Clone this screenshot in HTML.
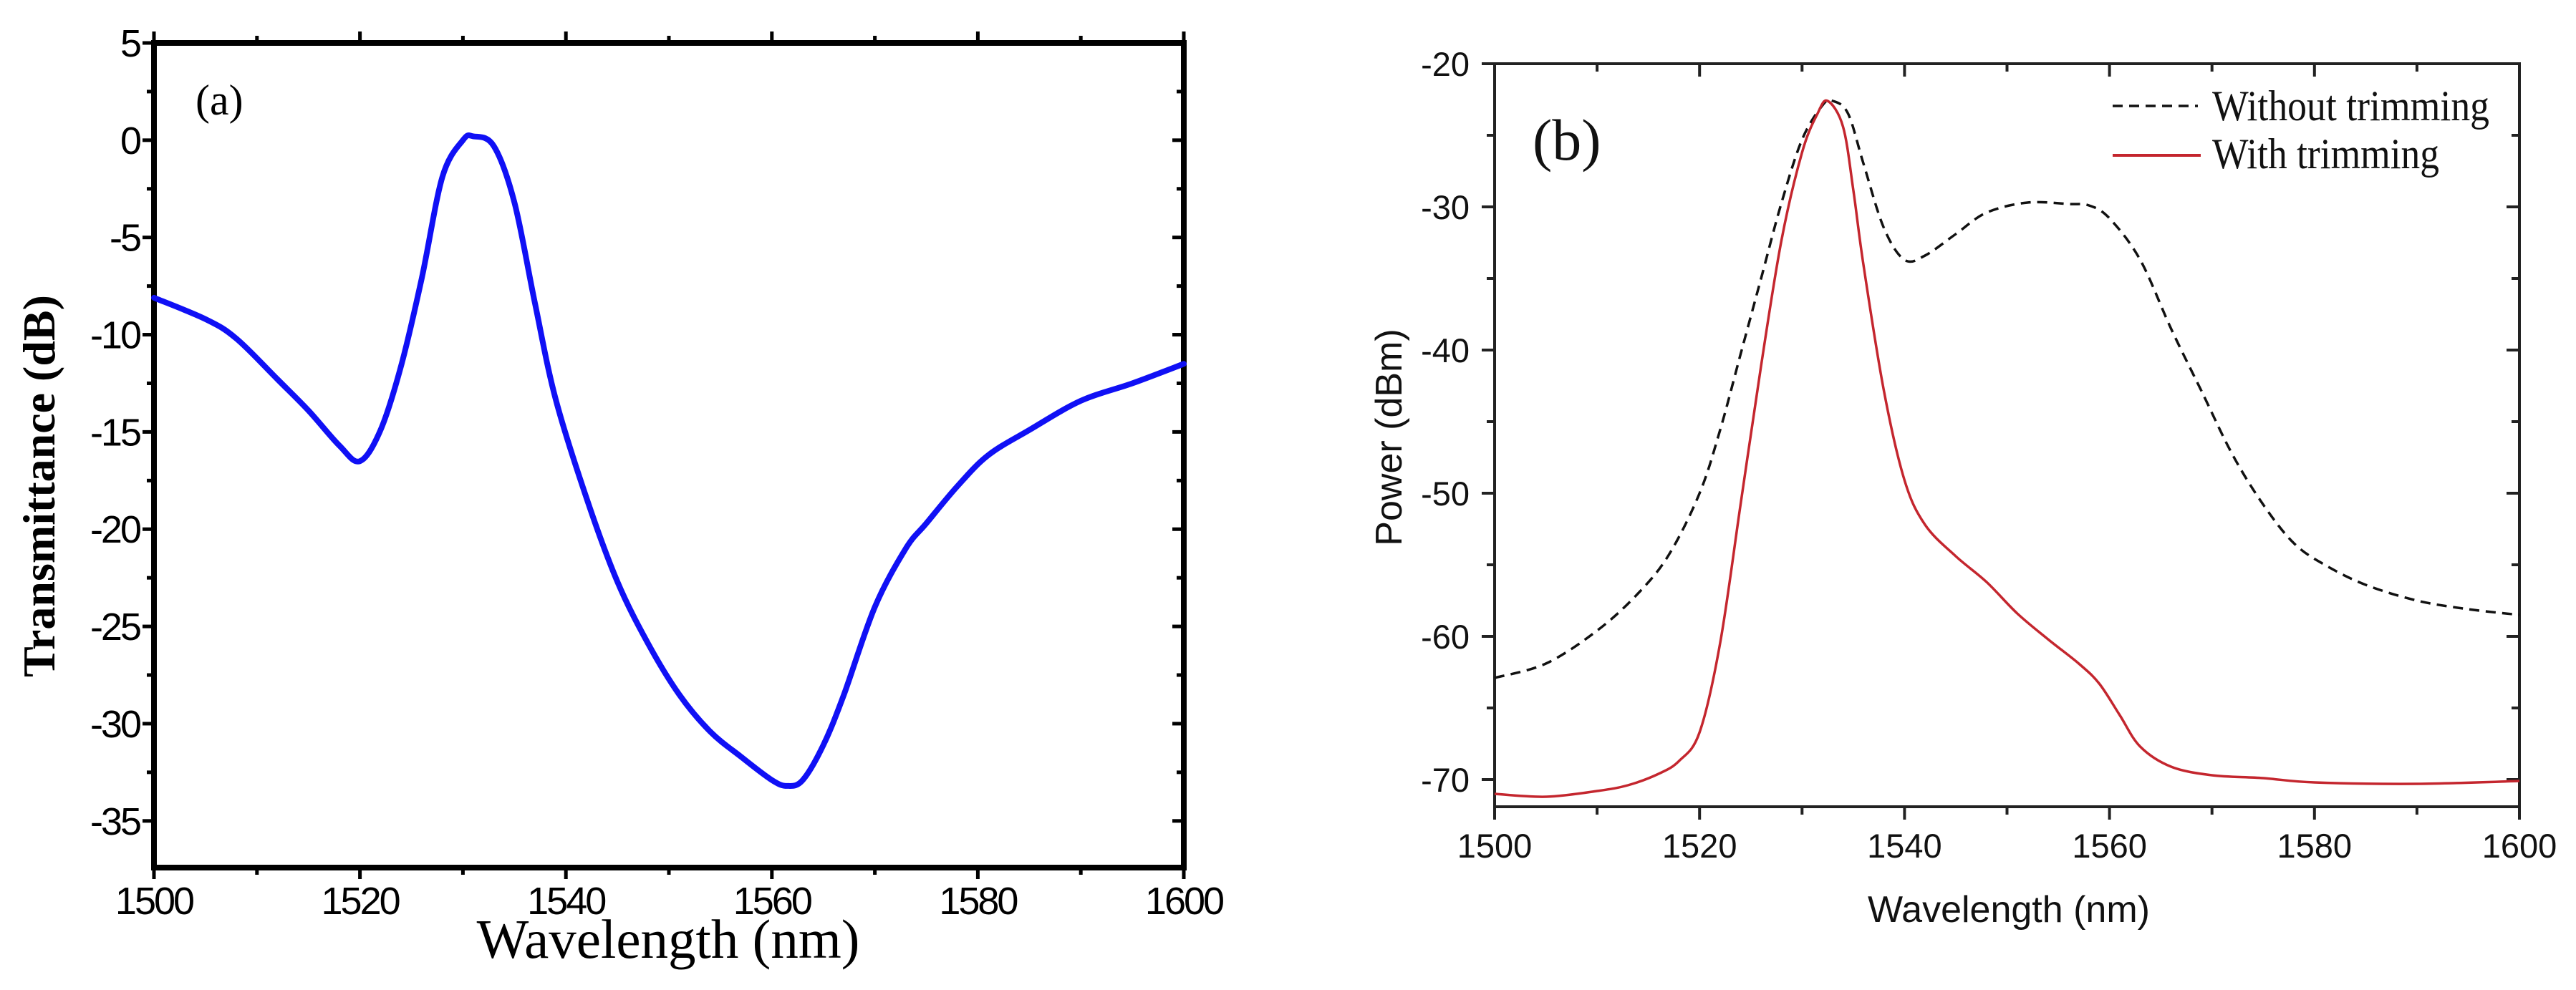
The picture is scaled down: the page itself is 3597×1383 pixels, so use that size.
<!DOCTYPE html>
<html><head><meta charset="utf-8"><style>
html,body{margin:0;padding:0;background:#fff;}
svg{display:block;}
</style></head><body>
<svg id="fig" width="3597" height="1383" viewBox="0 0 3597 1383" xmlns="http://www.w3.org/2000/svg">
<rect x="0" y="0" width="3597" height="1383" fill="#fff"/>
<g id="pa"></g>
<g id="pb"></g>
</svg>
<script>
// Panel (a) data
const aWavelength = [1500,1505,1508,1512,1515,1518,1520,1522,1524,1526,1528,1530,1531,1533,1535,1537,1539,1542,1545,1548,1551,1554,1557,1560,1561.5,1563,1565,1567,1570,1573,1575,1578,1581,1585,1590,1595,1600];
const aTransmittance = [-8.1,-9.2,-10.2,-12.3,-13.9,-15.7,-16.5,-14.9,-11.6,-7.1,-1.9,0,0.2,-0.3,-3.2,-8.4,-13.3,-18.4,-22.7,-25.9,-28.5,-30.4,-31.7,-32.9,-33.2,-32.9,-31.1,-28.5,-24.0,-21.0,-19.7,-17.8,-16.2,-14.9,-13.4,-12.5,-11.5];
const aXTicks = [1500,1520,1540,1560,1580,1600];
const aYTicks = [5,0,-5,-10,-15,-20,-25,-30,-35];
// Panel (b) data
const bWlWithout = [1500,1505,1510,1514,1517,1520,1522,1524,1526,1528,1530,1532,1533,1534.5,1536,1538,1540,1542,1545,1548,1552,1556,1558,1560,1563,1566,1569,1572,1575,1578,1581,1585,1590,1595,1600];
const bPowWithout = [-62.9,-61.9,-59.6,-57.0,-54.3,-50.0,-45.6,-40.3,-35.0,-29.7,-25.3,-22.9,-22.6,-23.5,-27.0,-31.5,-33.7,-33.4,-31.9,-30.4,-29.7,-29.8,-29.9,-30.8,-33.7,-38.5,-42.9,-47.3,-50.8,-53.5,-55.0,-56.4,-57.5,-58.1,-58.5];
const bWlWith = [1500,1505,1510,1513,1516,1518,1520,1522,1524,1526,1528,1530,1531.5,1532.5,1534,1535,1536,1538,1540,1542,1545,1548,1551,1554,1557,1559,1561,1563,1566,1570,1575,1580,1590,1600];
const bPowWith = [-71.0,-71.2,-70.8,-70.4,-69.6,-68.7,-66.7,-60.5,-50.8,-41.1,-32.3,-26.2,-23.5,-22.6,-24.4,-28.8,-34.1,-42.9,-49.1,-52.2,-54.4,-56.2,-58.4,-60.2,-61.9,-63.3,-65.5,-67.7,-69.1,-69.7,-69.9,-70.2,-70.3,-70.1];
const bXTicks = [1500,1520,1540,1560,1580,1600];
const bYTicks = [-20,-30,-40,-50,-60,-70];

const NS='http://www.w3.org/2000/svg';
function mk(parent,tag,attrs,text){const e=document.createElementNS(NS,tag);for(const k in attrs)e.setAttribute(k,attrs[k]);if(text!==undefined)e.textContent=text;parent.appendChild(e);return e;}
function smoothPath(xs,ys,sx,sy){
  const p=xs.map((x,i)=>[sx(x),sy(ys[i])]);
  let d='M'+p[0][0].toFixed(1)+','+p[0][1].toFixed(1);
  for(let i=0;i<p.length-1;i++){
    const p0=p[Math.max(0,i-1)],p1=p[i],p2=p[i+1],p3=p[Math.min(p.length-1,i+2)];
    const c1=[p1[0]+(p2[0]-p0[0])/6,p1[1]+(p2[1]-p0[1])/6];
    const c2=[p2[0]-(p3[0]-p1[0])/6,p2[1]-(p3[1]-p1[1])/6];
    d+='C'+c1[0].toFixed(1)+','+c1[1].toFixed(1)+' '+c2[0].toFixed(1)+','+c2[1].toFixed(1)+' '+p2[0].toFixed(1)+','+p2[1].toFixed(1);
  }
  return d;
}

// ---------- Panel A ----------
(function(){
const g=document.getElementById('pa');
const L=215,R=1653,T=60,B=1212;
const x0=1500,x1=1600,yTop=5,yBot=-37.4;
const sx=v=>L+(v-x0)/(x1-x0)*(R-L);
const sy=v=>T+(yTop-v)/(yTop-yBot)*(B-T);
for(let v=1500;v<=1600;v+=10){
  const major=(v%20===0);const len=major?16:10;
  let t=mk(g,'line',{x1:sx(v),x2:sx(v),y1:B,y2:B+len,stroke:'#000','stroke-width':5});
  
  
  t=mk(g,'line',{x1:sx(v),x2:sx(v),y1:T,y2:T-len,stroke:'#000','stroke-width':5});
  
  
}
for(let v=5;v>=-37.4;v-=2.5){
  const major=(Math.abs(v%5)<1e-6);const len=major?16:10;
  let t=mk(g,'line',{x1:L,x2:L-len,y1:sy(v),y2:sy(v),stroke:'#000','stroke-width':5});
  
  
  t=mk(g,'line',{x1:R,x2:R-len,y1:sy(v),y2:sy(v),stroke:'#000','stroke-width':5});
  
  
}
let fr=mk(g,'rect',{x:L,y:T,width:R-L,height:B-T,fill:'none',stroke:'#000','stroke-width':8});


aXTicks.forEach(v=>{
  const t=mk(g,'text',{x:sx(v),y:1277,'font-family':'Liberation Sans, sans-serif','font-size':54,'text-anchor':'middle',fill:'#000','letter-spacing':-3},String(v));
  
  
});
aYTicks.forEach(v=>{
  const t=mk(g,'text',{x:195,y:sy(v)+19,'font-family':'Liberation Sans, sans-serif','font-size':54,'text-anchor':'end',fill:'#000','letter-spacing':-3},String(v));
  
  
});
const line=mk(g,'path',{d:smoothPath(aWavelength,aTransmittance,sx,sy),fill:'none',stroke:'#1010f5','stroke-width':8,'stroke-linejoin':'round','stroke-linecap':'round'});


let t=mk(g,'text',{x:933,y:1338,'font-family':'Liberation Serif, serif','font-size':77,'text-anchor':'middle',fill:'#000'},'Wavelength (nm)');


t=mk(g,'text',{x:0,y:0,transform:'translate(76,679) rotate(-90)','font-family':'Liberation Serif, serif','font-size':64,'font-weight':'bold','text-anchor':'middle',fill:'#000'},'Transmittance (dB)');


t=mk(g,'text',{x:273,y:160,'font-family':'Liberation Serif, serif','font-size':60,fill:'#000'},'(a)');


})();

// ---------- Panel B ----------
(function(){
const g=document.getElementById('pb');
const L=2087,R=3518,T=89,B=1127;
const x0=1500,x1=1600,yTop=-20,yBot=-71.9;
const sx=v=>L+(v-x0)/(x1-x0)*(R-L);
const sy=v=>T+(yTop-v)/(yTop-yBot)*(B-T);
for(let v=1500;v<=1600;v+=10){
  const major=(v%20===0);const len=major?18:11;
  let t=mk(g,'line',{x1:sx(v),x2:sx(v),y1:B,y2:B+len,stroke:'#222','stroke-width':4});
  
  
  t=mk(g,'line',{x1:sx(v),x2:sx(v),y1:T,y2:T+len,stroke:'#222','stroke-width':4});
  
  
}
for(let v=-20;v>=-71.9;v-=5){
  const major=(v%10===0);const len=major?18:11;
  let t=mk(g,'line',{x1:L,x2:L-len,y1:sy(v),y2:sy(v),stroke:'#222','stroke-width':4});
  
  
  t=mk(g,'line',{x1:R,x2:R-len,y1:sy(v),y2:sy(v),stroke:'#222','stroke-width':4});
  
  
}
let fr=mk(g,'rect',{x:L,y:T,width:R-L,height:B-T,fill:'none',stroke:'#222','stroke-width':4});


bXTicks.forEach(v=>{
  const t=mk(g,'text',{x:sx(v),y:1198,'font-family':'Liberation Sans, sans-serif','font-size':47,'text-anchor':'middle',fill:'#111'},String(v));
  
  
});
bYTicks.forEach(v=>{
  const t=mk(g,'text',{x:2052,y:sy(v)+17,'font-family':'Liberation Sans, sans-serif','font-size':47,'text-anchor':'end',fill:'#111'},String(v));
  
  
});
const dash=mk(g,'path',{d:smoothPath(bWlWithout,bPowWithout,sx,sy),fill:'none',stroke:'#111','stroke-width':3.5,'stroke-dasharray':'14 9'});


const red=mk(g,'path',{d:smoothPath(bWlWith,bPowWith,sx,sy),fill:'none',stroke:'#c4262e','stroke-width':3.5,'stroke-linejoin':'round'});


let t=mk(g,'text',{x:2805,y:1288,'font-family':'Liberation Sans, sans-serif','font-size':52,'text-anchor':'middle',fill:'#111'},'Wavelength (nm)');


t=mk(g,'text',{x:0,y:0,transform:'translate(1957,611) rotate(-90)','font-family':'Liberation Sans, sans-serif','font-size':52,'text-anchor':'middle',fill:'#111'},'Power (dBm)');


t=mk(g,'text',{x:2140,y:223,'font-family':'Liberation Serif, serif','font-size':82,fill:'#111'},'(b)');


let l=mk(g,'line',{x1:2950,x2:3069,y1:148,y2:148,stroke:'#111','stroke-width':3.5,'stroke-dasharray':'14 9'});


t=mk(g,'text',{x:3089,y:168,'font-family':'Liberation Serif, serif','font-size':60,fill:'#111',textLength:387,lengthAdjust:'spacingAndGlyphs'},'Without trimming');


l=mk(g,'line',{x1:2950,x2:3073,y1:217,y2:217,stroke:'#c4262e','stroke-width':4});


t=mk(g,'text',{x:3089,y:235,'font-family':'Liberation Serif, serif','font-size':60,fill:'#111',textLength:317,lengthAdjust:'spacingAndGlyphs'},'With trimming');


})();
</script>
</body></html>
